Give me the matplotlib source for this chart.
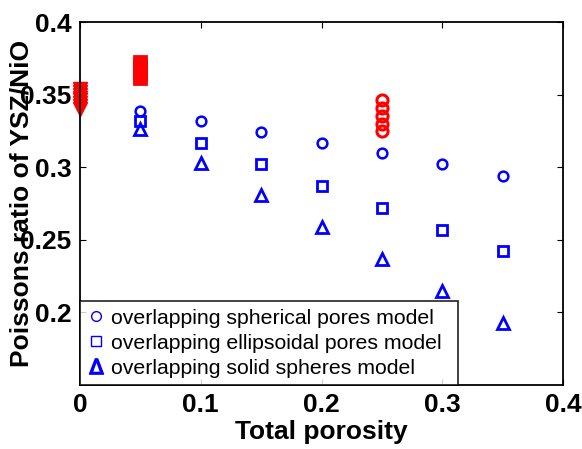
import matplotlib
matplotlib.use("Agg")
import matplotlib.pyplot as plt
from matplotlib.lines import Line2D

plt.rcParams['font.family'] = ['Liberation Sans', 'DejaVu Sans']

# model predictions (blue)
porosity = [0.05, 0.10, 0.15, 0.20, 0.25, 0.30, 0.35]
spherical_pores = [0.339, 0.332, 0.324, 0.317, 0.310, 0.302, 0.294]
ellipsoidal_pores = [0.332, 0.317, 0.302, 0.287, 0.272, 0.257, 0.242]
solid_spheres = [0.326, 0.303, 0.281, 0.259, 0.237, 0.215, 0.193]

# measured values (red)
meas_x0 = [0.0] * 8
meas_y0 = [0.354, 0.352, 0.350, 0.348, 0.346, 0.344, 0.342, 0.340]
meas_x1 = [0.05] * 6
meas_y1 = [0.3725, 0.370, 0.368, 0.366, 0.364, 0.3615]
meas_x2 = [0.25] * 5
meas_y2 = [0.346, 0.3405, 0.335, 0.330, 0.325]

fig = plt.figure(figsize=(5.82, 4.49), dpi=100)
ax = fig.add_axes([0.1375, 0.1425, 0.83, 0.8085])

ax.plot(porosity, spherical_pores, 'o', mfc='none', mec='blue', ms=7, mew=1.8, ls='none')
ax.plot(porosity, ellipsoidal_pores, 's', mfc='none', mec='blue', ms=7, mew=2, ls='none')
ax.plot(porosity, solid_spheres, '^', mfc='none', mec='blue', ms=8, mew=2, ls='none')

ax.plot(meas_x0, meas_y0, 'v', color='red', ms=10, ls='none', clip_on=False)
ax.plot(meas_x1, meas_y1, 's', mfc='red', mec='red', ms=8, mew=2, ls='none')
ax.plot(meas_x2, meas_y2, 'o', mfc='none', mec='red', ms=8, mew=2.2, ls='none')

ax.set_xlim(0, 0.4)
ax.set_ylim(0.15, 0.4)
ax.set_xticks([0, 0.1, 0.2, 0.3, 0.4])
ax.set_xticklabels(['0', '0.1', '0.2', '0.3', '0.4'])
ax.set_yticks([0.2, 0.25, 0.3, 0.35, 0.4])
ax.set_yticklabels(['0.2', '0.25', '0.3', '0.35', '0.4'])
ax.tick_params(direction='in', top=True, right=True, length=4, width=0.8,
               labelsize=19, pad=6)
for lbl in ax.get_xticklabels() + ax.get_yticklabels():
    lbl.set_fontweight('bold')
for sp in ax.spines.values():
    sp.set_linewidth(1.3)

ax.set_xlabel('Total porosity', fontsize=19, fontweight='bold', labelpad=2)
ax.set_ylabel('Poissons ratio of YSZ/NiO', fontsize=19, fontweight='bold')
ax.yaxis.set_label_coords(-0.097, 0.5)

handles = [
    Line2D([], [], marker='o', mfc='none', mec='blue', ms=7, mew=1.0, ls='none'),
    Line2D([], [], marker='s', mfc='none', mec='blue', ms=7, mew=1.0, ls='none'),
    Line2D([], [], marker='$\\Delta$', color='blue', ms=11, ls='none'),
]
labels = ['overlapping spherical pores model',
          'overlapping ellipsoidal pores model',
          'overlapping solid spheres model']
leg = ax.legend(handles, labels, loc='lower left', bbox_to_anchor=(0, 0, 0.783, 0.3),
                mode='expand', borderaxespad=0, fancybox=False, fontsize=15.3,
                handlelength=0.8, handletextpad=0.3, labelspacing=0.28, borderpad=0.35)
leg.get_frame().set_edgecolor('black')
leg.get_frame().set_linewidth(1.3)

fig.savefig('out.png', dpi=100)
